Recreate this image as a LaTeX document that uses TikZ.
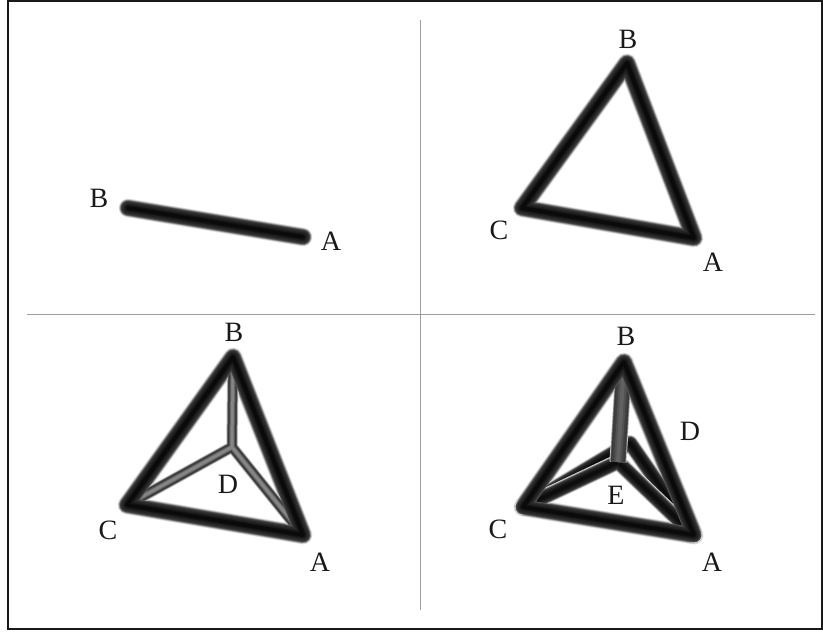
\documentclass[tikz,border=0pt]{standalone}
\usepackage{fontspec}
\setmainfont{Liberation Serif}
\newcommand{\tubehalo}[1]{%
  \foreach \w/\c in {19/7,18/16,17/30,16/46}{%
    \draw[tube edge, line width=\w pt, draw=black!\c] #1;}}
\newcommand{\tubecore}[1]{%
  \foreach \w/\c in {15/62,14/72,13/78,11.5/83,9/87,6/92,3.5/96}{%
    \draw[tube edge, line width=\w pt, draw=black!\c] #1;}}
\newcommand{\thinstrut}[1]{%
  \foreach \w/\c in {12/10,11/25,10/50,9/72,7.5/80,6/68,4/55,2.5/48}{%
    \draw[tube edge, line width=\w pt, draw=black!\c] #1;}}
\newcommand{\wideback}[1]{%
  \foreach \w/\c in {16/10,15/25,14/45,13/65,12/78,10/86,7/90,4/95}{%
    \draw[tube edge, line width=\w pt, draw=black!\c] #1;}}
\newcommand{\widegray}[1]{%
  \foreach \w/\c in {17/15,16/40,15/65,14/78,12/75,8/68,4/62}{%
    \draw[line cap=butt, line width=\w pt, draw=black!\c] #1;}}
\tikzset{
  tube edge/.style={line cap=round, line join=round},
  divider/.style={draw=black!38, line width=1pt},
  frame/.style={draw=black!90, line width=1.8pt},
  lab/.style={inner sep=0pt, font=\fontsize{28}{28}\selectfont, text=black!90}
}
\begin{document}
\begin{tikzpicture}[x=1pt,y=-1pt]
\useasboundingbox (0,0) rectangle (823,633);
\fill[white] (0,0) rectangle (823,633);
\draw[frame] (8,-3) -- (8,629) -- (826,629);
\draw[frame] (8,1) -- (822,1) -- (822,629);
\coordinate (hl) at (27,314); \coordinate (hr) at (815,314);
\coordinate (vt) at (420,20); \coordinate (vb) at (420,610);
\draw[divider] (hl) -- (hr);
\draw[divider] (vt) -- (vb);
% panel 1
\coordinate (a1) at (303,237); \coordinate (b1) at (128,208);
\tubehalo{(b1) -- (a1)}
\tubecore{(b1) -- (a1)}
\node[lab] (la1) at (331,241) {A};
\node[lab] (lb1) at (99,198) {B};
% panel 2
\coordinate (a2) at (694,238); \coordinate (b2) at (627,63); \coordinate (c2) at (522,208);
\tubehalo{(a2) -- (b2) -- (c2) -- cycle}
\tubecore{(a2) -- (b2) -- (c2) -- cycle}
\node[lab] (la2) at (713,262) {A};
\node[lab] (lb2) at (628,39) {B};
\node[lab] (lc2) at (499,230) {C};
% panel 3
\coordinate (a3) at (303,535); \coordinate (b3) at (233,357); \coordinate (c3) at (127,505);
\coordinate (d3) at (232,447);
\tubehalo{(a3) -- (b3) -- (c3) -- cycle}
\thinstrut{(b3) -- (d3) -- (c3) (d3) -- (a3)}
\tubecore{(a3) -- (b3) -- (c3) -- cycle}
\node[lab] (la3) at (320,562) {A};
\node[lab] (lb3) at (234,332) {B};
\node[lab] (lc3) at (108,530) {C};
\node[lab] (ld3) at (228,484) {D};
% panel 4
\coordinate (a4) at (694,535); \coordinate (b4) at (624,362); \coordinate (c4) at (523,507);
\coordinate (d4) at (630,443); \coordinate (e4) at (618,462);
\tubehalo{(a4) -- (b4) -- (c4) -- cycle}
\wideback{(c4) -- (d4) -- (a4)}
\wideback{(c4) -- (e4) -- (a4)}
\widegray{(b4) -- (e4)}
\tubecore{(a4) -- (b4) -- (c4) -- cycle}
\node[lab] (la4) at (712,562) {A};
\node[lab] (lb4) at (626,336) {B};
\node[lab] (lc4) at (498,529) {C};
\node[lab] (ld4) at (690,431) {D};
\node[lab] (le4) at (616,495) {E};
\end{tikzpicture}
\end{document}
